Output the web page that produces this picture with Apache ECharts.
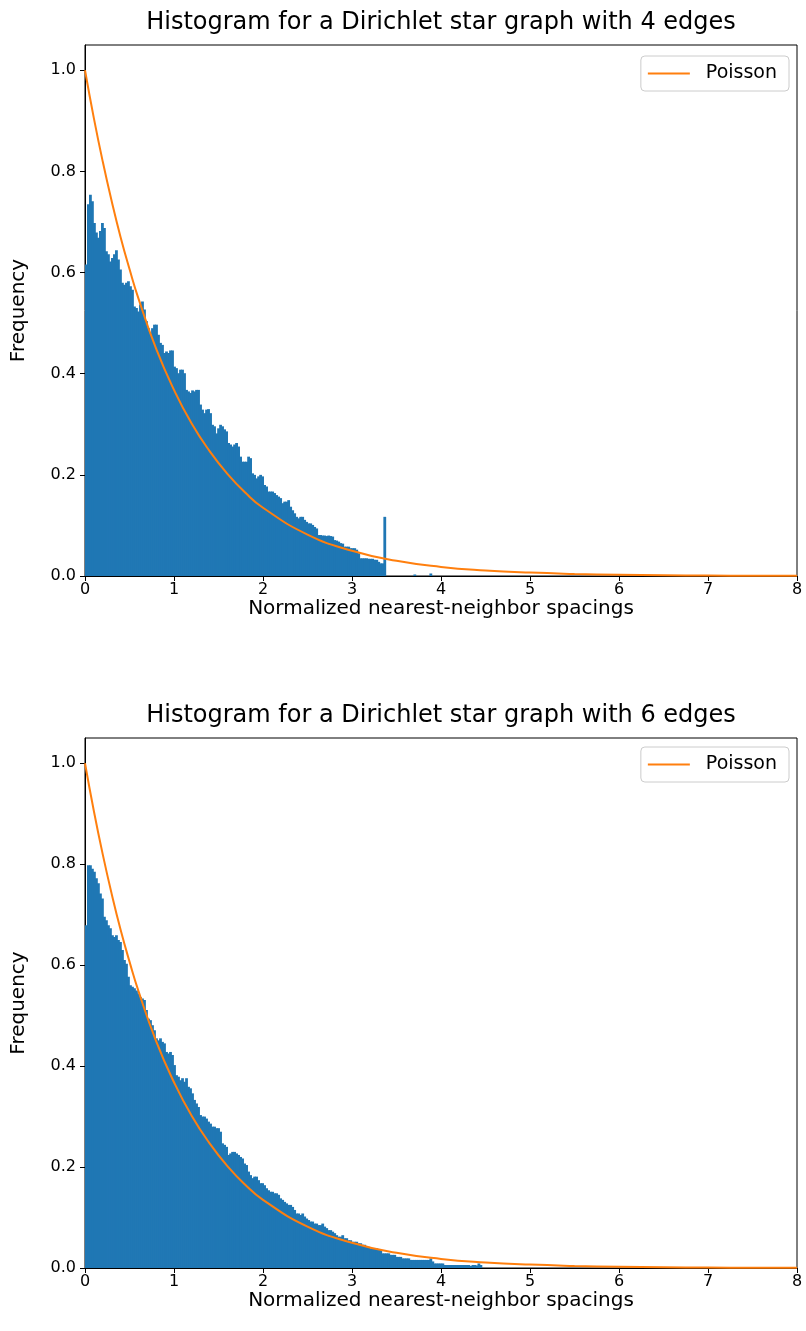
<!DOCTYPE html>
<html>
<head>
<meta charset="utf-8">
<script src="https://cdn.jsdelivr.net/npm/echarts@6/dist/echarts.min.js"></script>
<style>
  html, body { margin: 0; padding: 0; background: #ffffff; }
  #chart { width: 806px; height: 1331px; }
</style>
</head>
<body>
<div id="chart"></div>
<script>
// Histogram bin width (normalized spacing units); bins start at 0.
const BIN_WIDTH = 0.0225;

// Normalized densities per bin, star graph with 4 edges.
const hist4 = [
  0.616,0.735,0.754,0.741,0.698,0.679,0.669,0.682,0.698,0.688,
  0.642,0.636,0.622,0.629,0.636,0.644,0.626,0.606,0.580,0.576,
  0.580,0.583,0.573,0.566,0.533,0.530,0.523,0.537,0.543,0.527,
  0.504,0.490,0.480,0.490,0.497,0.497,0.477,0.461,0.457,0.441,
  0.444,0.441,0.446,0.446,0.414,0.411,0.401,0.408,0.408,0.401,
  0.368,0.365,0.362,0.367,0.365,0.368,0.368,0.339,0.329,0.322,
  0.329,0.330,0.322,0.299,0.296,0.282,0.292,0.299,0.296,0.290,
  0.286,0.263,0.260,0.256,0.260,0.263,0.256,0.236,0.226,0.226,
  0.226,0.236,0.233,0.203,0.200,0.193,0.197,0.200,0.197,0.180,
  0.177,0.167,0.167,0.167,0.164,0.160,0.157,0.154,0.144,0.147,
  0.147,0.150,0.137,0.130,0.124,0.117,0.114,0.117,0.117,0.111,
  0.107,0.104,0.104,0.101,0.097,0.094,0.081,0.081,0.080,0.080,
  0.079,0.080,0.079,0.078,0.071,0.070,0.068,0.065,0.064,0.058,
  0.058,0.058,0.055,0.055,0.055,0.052,0.045,0.035,0.035,0.035,
  0.035,0.034,0.034,0.034,0.032,0.032,0.028,0.025,0.025,0.117
];
// Isolated bins past the main body (start x, density), 4 edges.
const tail4 = [[3.69, 0.003], [3.87, 0.005]];

// Normalized densities per bin, star graph with 6 edges.
const hist6 = [
  0.679,0.798,0.798,0.791,0.785,0.772,0.762,0.742,0.732,0.696,
  0.689,0.679,0.673,0.659,0.656,0.659,0.650,0.646,0.630,0.610,
  0.603,0.577,0.560,0.557,0.554,0.550,0.544,0.537,0.534,0.531,
  0.511,0.494,0.491,0.481,0.471,0.455,0.451,0.455,0.448,0.445,
  0.428,0.425,0.428,0.422,0.402,0.382,0.379,0.372,0.376,0.369,
  0.376,0.359,0.356,0.346,0.333,0.326,0.319,0.303,0.300,0.300,
  0.296,0.290,0.286,0.280,0.280,0.277,0.277,0.270,0.247,0.244,
  0.240,0.224,0.227,0.230,0.230,0.227,0.224,0.220,0.217,0.207,
  0.204,0.191,0.184,0.178,0.181,0.181,0.174,0.168,0.168,0.164,
  0.158,0.154,0.151,0.151,0.148,0.148,0.145,0.138,0.135,0.131,
  0.128,0.125,0.125,0.121,0.115,0.108,0.108,0.105,0.108,0.102,
  0.098,0.095,0.092,0.092,0.088,0.088,0.085,0.085,0.088,0.082,
  0.079,0.075,0.075,0.072,0.069,0.065,0.062,0.062,0.065,0.059,
  0.059,0.055,0.055,0.052,0.052,0.052,0.049,0.049,0.046,0.046,
  0.042,0.042,0.039,0.039,0.039,0.039,0.036,0.036,0.029,0.029,
  0.029,0.029,0.026,0.026,0.026,0.022,0.022,0.022,0.019,0.019,
  0.019,0.019,0.016,0.016,0.016,0.016,0.016,0.016,0.016,0.016,
  0.016,0.016,0.019,0.013,0.009,0.009,0.009,0.009,0.009,0.006,
  0.006,0.006,0.006,0.006,0.006,0.006,0.006,0.006,0.006,0.006,
  0.006,0.006,0.004,0.006,0.006,0.005,0.009,0.006
];

// Poisson reference curve, sampled points.
const poissonX = [0,0.1,0.2,0.3,0.4,0.5,0.6,0.8,1.0,1.2,1.4,1.6,1.8,2.0,2.5,3.0,3.5,4.0,4.5,5.0,5.5,6.0,6.5,7.0,7.5,8.0];
const poissonY = [1.000,0.905,0.819,0.741,0.670,0.607,0.549,0.449,0.368,0.301,0.247,0.202,0.165,0.135,0.082,0.050,0.030,0.018,0.011,0.0067,0.0041,0.0025,0.0015,0.0009,0.0006,0.0003];

const titles = [
  'Histogram for a Dirichlet star graph with 4 edges',
  'Histogram for a Dirichlet star graph with 6 edges'
];
const xLabel = 'Normalized nearest-neighbor spacings';
const yLabel = 'Frequency';
const yTicks = [0, 0.2, 0.4, 0.6, 0.8, 1.0];

const FONT = 'DejaVu Sans';
const BAR_COLOR = '#1f77b4';
const LINE_COLOR = '#ff7f0e';

function toBins(heights, extra) {
  const bins = heights.map((h, i) => [i * BIN_WIDTH, (i + 1) * BIN_WIDTH, h]);
  (extra || []).forEach(([x, h]) => bins.push([x, x + BIN_WIDTH, h]));
  return bins;
}

// One rectangle per bin, slightly widened so neighbouring bins leave no seam.
function renderBin(params, api) {
  const base = api.coord([api.value(0), 0]);
  const top = api.coord([api.value(1), api.value(2)]);
  return {
    type: 'rect',
    shape: { x: base[0], y: top[1], width: top[0] - base[0] + 0.8, height: base[1] - top[1] },
    style: { fill: BAR_COLOR }
  };
}

const grids = [
  { left: 85, top: 45, width: 712, height: 531 },
  { left: 85, top: 738, width: 712, height: 530 }
];
const titleTops = [11, 704];
const legendTops = [56, 747];
const panels = [toBins(hist4, tail4), toBins(hist6)];

const option = {
  animation: false,
  backgroundColor: '#ffffff',
  textStyle: { fontFamily: FONT },
  title: titles.map((t, i) => ({
    text: t, left: 441, top: titleTops[i], textAlign: 'center', padding: 0,
    textStyle: { fontFamily: FONT, fontSize: 24, fontWeight: 'normal', color: '#000' }
  })),
  legend: legendTops.map(t => ({
    data: ['Poisson'], right: 17, top: t, orient: 'vertical',
    icon: 'rect', itemWidth: 42, itemHeight: 2,
    backgroundColor: 'rgba(255,255,255,0.8)', borderColor: '#cccccc', borderWidth: 1, borderRadius: 4,
    padding: [8, 12, 8, 7],
    textStyle: { fontFamily: FONT, fontSize: 19, color: '#000', padding: [0, 0, 0, 11] }
  })),
  grid: grids.map(g => Object.assign({ show: true, borderColor: '#000', borderWidth: 1, backgroundColor: 'transparent' }, g)),
  xAxis: grids.map((g, i) => ({
    type: 'value', gridIndex: i, min: 0, max: 8, interval: 1,
    name: xLabel, nameLocation: 'middle', nameGap: 18,
    nameTextStyle: { fontFamily: FONT, fontSize: 20, color: '#000' },
    axisLine: { show: true, onZero: false, lineStyle: { color: '#000', width: 1 } },
    axisTick: { show: true, length: 5, lineStyle: { color: '#000' } },
    axisLabel: { fontFamily: FONT, fontSize: 16, color: '#000', margin: 6 },
    splitLine: { show: false }
  })),
  yAxis: grids.map((g, i) => ({
    type: 'value', gridIndex: i, min: 0, max: 1.05,
    name: yLabel, nameLocation: 'middle', nameGap: 56, nameRotate: 90,
    nameTextStyle: { fontFamily: FONT, fontSize: 20, color: '#000' },
    axisLine: { show: true, onZero: false, lineStyle: { color: '#000', width: 1 } },
    axisTick: { show: true, length: 5, customValues: yTicks, lineStyle: { color: '#000' } },
    axisLabel: { fontFamily: FONT, fontSize: 16, color: '#000', margin: 9, customValues: yTicks,
      formatter: v => Number(v).toFixed(1) },
    splitLine: { show: false }
  })),
  series: [].concat(...panels.map((bins, i) => [
    {
      name: 'hist', type: 'custom', xAxisIndex: i, yAxisIndex: i,
      renderItem: renderBin, encode: { x: [0, 1], y: 2 }, data: bins, clip: true, z: 2
    },
    {
      name: 'Poisson', type: 'line', xAxisIndex: i, yAxisIndex: i,
      data: poissonX.map((x, k) => [x, poissonY[k]]),
      smooth: true, symbol: 'none', showSymbol: false, clip: true, z: 3,
      lineStyle: { color: LINE_COLOR, width: 2 }, itemStyle: { color: LINE_COLOR }
    }
  ]))
};

const chart = echarts.init(document.getElementById('chart'), null, { renderer: 'canvas' });
chart.setOption(option);
</script>
</body>
</html>
